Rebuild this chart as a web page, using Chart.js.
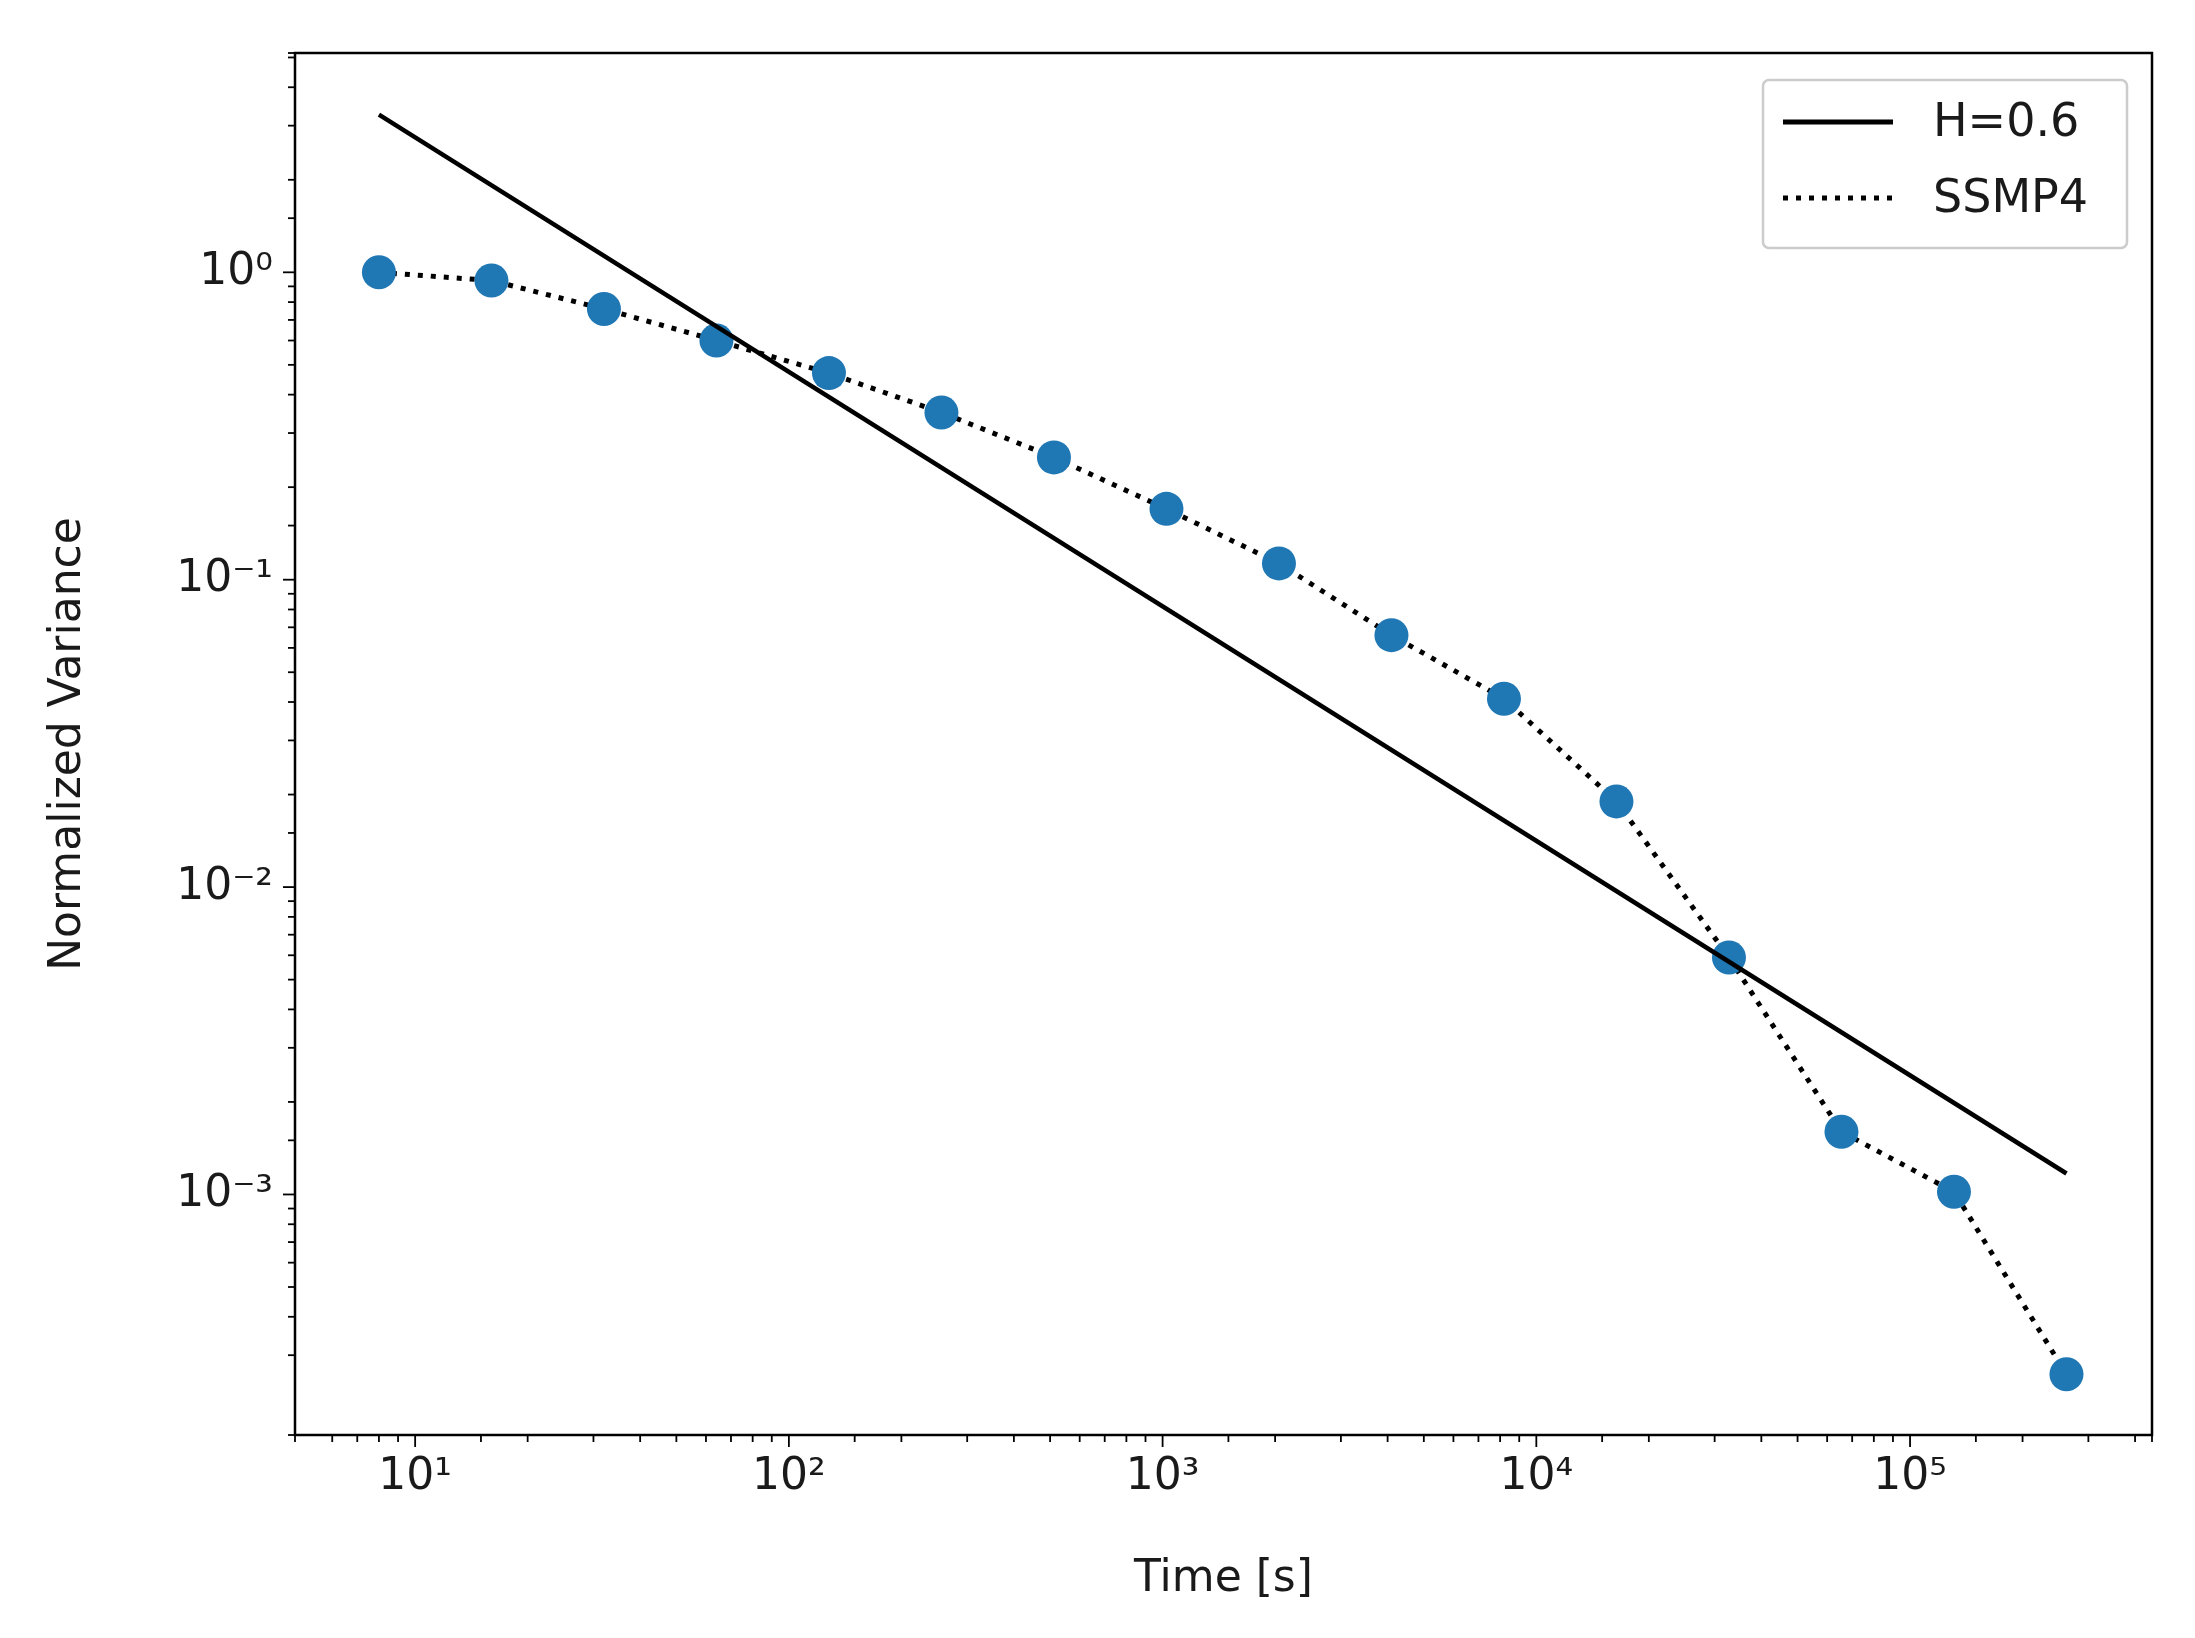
<!DOCTYPE html>
<html>
<head>
<meta charset="utf-8">
<script src="https://cdn.jsdelivr.net/npm/chart.js@4"></script>
<style>
  html, body { margin: 0; padding: 0; background: #fff; }
  #wrap { width: 2195px; height: 1638px; }
</style>
</head>
<body>
<div id="wrap"><canvas id="chart" width="2195" height="1638"></canvas></div>
<script>
const times = [8, 16, 32, 64, 128, 256, 512, 1024, 2048, 4096, 8192, 16384, 32768, 65536, 131072, 262144];
const variance = [1.0, 0.94, 0.76, 0.6, 0.47, 0.35, 0.25, 0.17, 0.113, 0.066, 0.041, 0.019, 0.0059, 0.0016, 0.00102, 0.00026];
const fitTimes = [8, 262144];
const fitValues = [3.26, 0.00117];
const labelH = 'H=0.6';
const labelS = 'SSMP4';

const sup = {'0':'⁰','1':'¹','2':'²','3':'³','4':'⁴','5':'⁵','-':'⁻'};
function powLabel(v) {
  const e = Math.round(Math.log10(v));
  if (Math.abs(Math.log10(v) - e) > 1e-6) return '';
  return '10' + String(e).split('').map(c => sup[c]).join('');
}
const FONT = 'DejaVu Sans';

// frame, log ticks with major/minor lengths, and legend box
const decor = {
  id: 'decor',
  afterDraw(chart) {
    const ctx = chart.ctx, a = chart.chartArea;
    ctx.save();
    ctx.strokeStyle = '#000';
    ctx.lineWidth = 2.5;
    ctx.strokeRect(a.left, a.top, a.right - a.left, a.bottom - a.top);
    ctx.lineWidth = 1.8;
    const xs = chart.scales.x, ys = chart.scales.y;
    xs.ticks.forEach(t => {
      const px = xs.getPixelForValue(t.value);
      if (px < a.left - 0.5 || px > a.right + 0.5) return;
      const len = powLabel(t.value) ? 12 : 7;
      ctx.beginPath(); ctx.moveTo(px, a.bottom); ctx.lineTo(px, a.bottom + len); ctx.stroke();
    });
    ys.ticks.forEach(t => {
      const py = ys.getPixelForValue(t.value);
      if (py < a.top - 0.5 || py > a.bottom + 0.5) return;
      const len = powLabel(t.value) ? 12 : 7;
      ctx.beginPath(); ctx.moveTo(a.left, py); ctx.lineTo(a.left - len, py); ctx.stroke();
    });
    // legend
    const lx = 1763, ly = 80, lw = 364, lh = 168;
    ctx.fillStyle = 'rgba(255,255,255,0.8)';
    ctx.strokeStyle = '#ccc';
    ctx.lineWidth = 2.5;
    ctx.beginPath(); ctx.roundRect(lx, ly, lw, lh, 6); ctx.fill(); ctx.stroke();
    ctx.strokeStyle = '#000';
    ctx.lineWidth = 5;
    ctx.beginPath(); ctx.moveTo(lx + 20, ly + 42); ctx.lineTo(lx + 130, ly + 42); ctx.stroke();
    ctx.setLineDash([5, 8]);
    ctx.beginPath(); ctx.moveTo(lx + 20, ly + 118); ctx.lineTo(lx + 130, ly + 118); ctx.stroke();
    ctx.setLineDash([]);
    ctx.fillStyle = '#1a1a1a';
    ctx.font = '46px "' + FONT + '"';
    ctx.textBaseline = 'middle';
    ctx.fillText(labelH, lx + 170, ly + 44);
    ctx.fillText(labelS, lx + 170, ly + 120);
    ctx.restore();
  }
};

new Chart(document.getElementById('chart'), {
  type: 'line',
  data: {
    datasets: [
      {
        label: labelH,
        data: fitTimes.map((t, i) => ({x: t, y: fitValues[i]})),
        borderColor: '#000', borderWidth: 4.5, pointRadius: 0, fill: false
      },
      {
        label: labelS + ' points',
        data: times.map((t, i) => ({x: t, y: variance[i]})),
        showLine: false, pointRadius: 17, pointBackgroundColor: '#1f77b4',
        pointBorderWidth: 0, borderColor: '#1f77b4'
      },
      {
        label: labelS,
        data: times.map((t, i) => ({x: t, y: variance[i]})),
        borderColor: '#000', borderWidth: 5, borderDash: [5, 8],
        pointRadius: 0, fill: false
      }
    ]
  },
  options: {
    responsive: false,
    animation: false,
    devicePixelRatio: 1,
    layout: { padding: { top: 53, right: 43, left: 38, bottom: 28 } },
    plugins: { legend: { display: false }, tooltip: { enabled: false } },
    scales: {
      x: {
        type: 'logarithmic', min: 4.77, max: 444000,
        grid: { display: false, drawTicks: false },
        border: { display: false },
        afterFit(s) { s.height = 175; },
        ticks: {
          autoSkip: false, maxRotation: 0, padding: 16, color: '#1a1a1a',
          font: { family: FONT, size: 44 },
          callback: v => powLabel(v)
        },
        title: { display: true, text: 'Time [s]', color: '#1a1a1a', font: { family: FONT, size: 44 }, padding: { top: 0 } }
      },
      y: {
        type: 'logarithmic', min: 1.65e-4, max: 5.17,
        grid: { display: false, drawTicks: false },
        border: { display: false },
        afterFit(s) { s.width = 257; },
        ticks: {
          autoSkip: false, padding: 22, color: '#1a1a1a',
          font: { family: FONT, size: 44 },
          callback: v => powLabel(v)
        },
        title: { display: true, text: 'Normalized Variance', color: '#1a1a1a', font: { family: FONT, size: 44 } }
      }
    }
  },
  plugins: [decor]
});
</script>
</body>
</html>
